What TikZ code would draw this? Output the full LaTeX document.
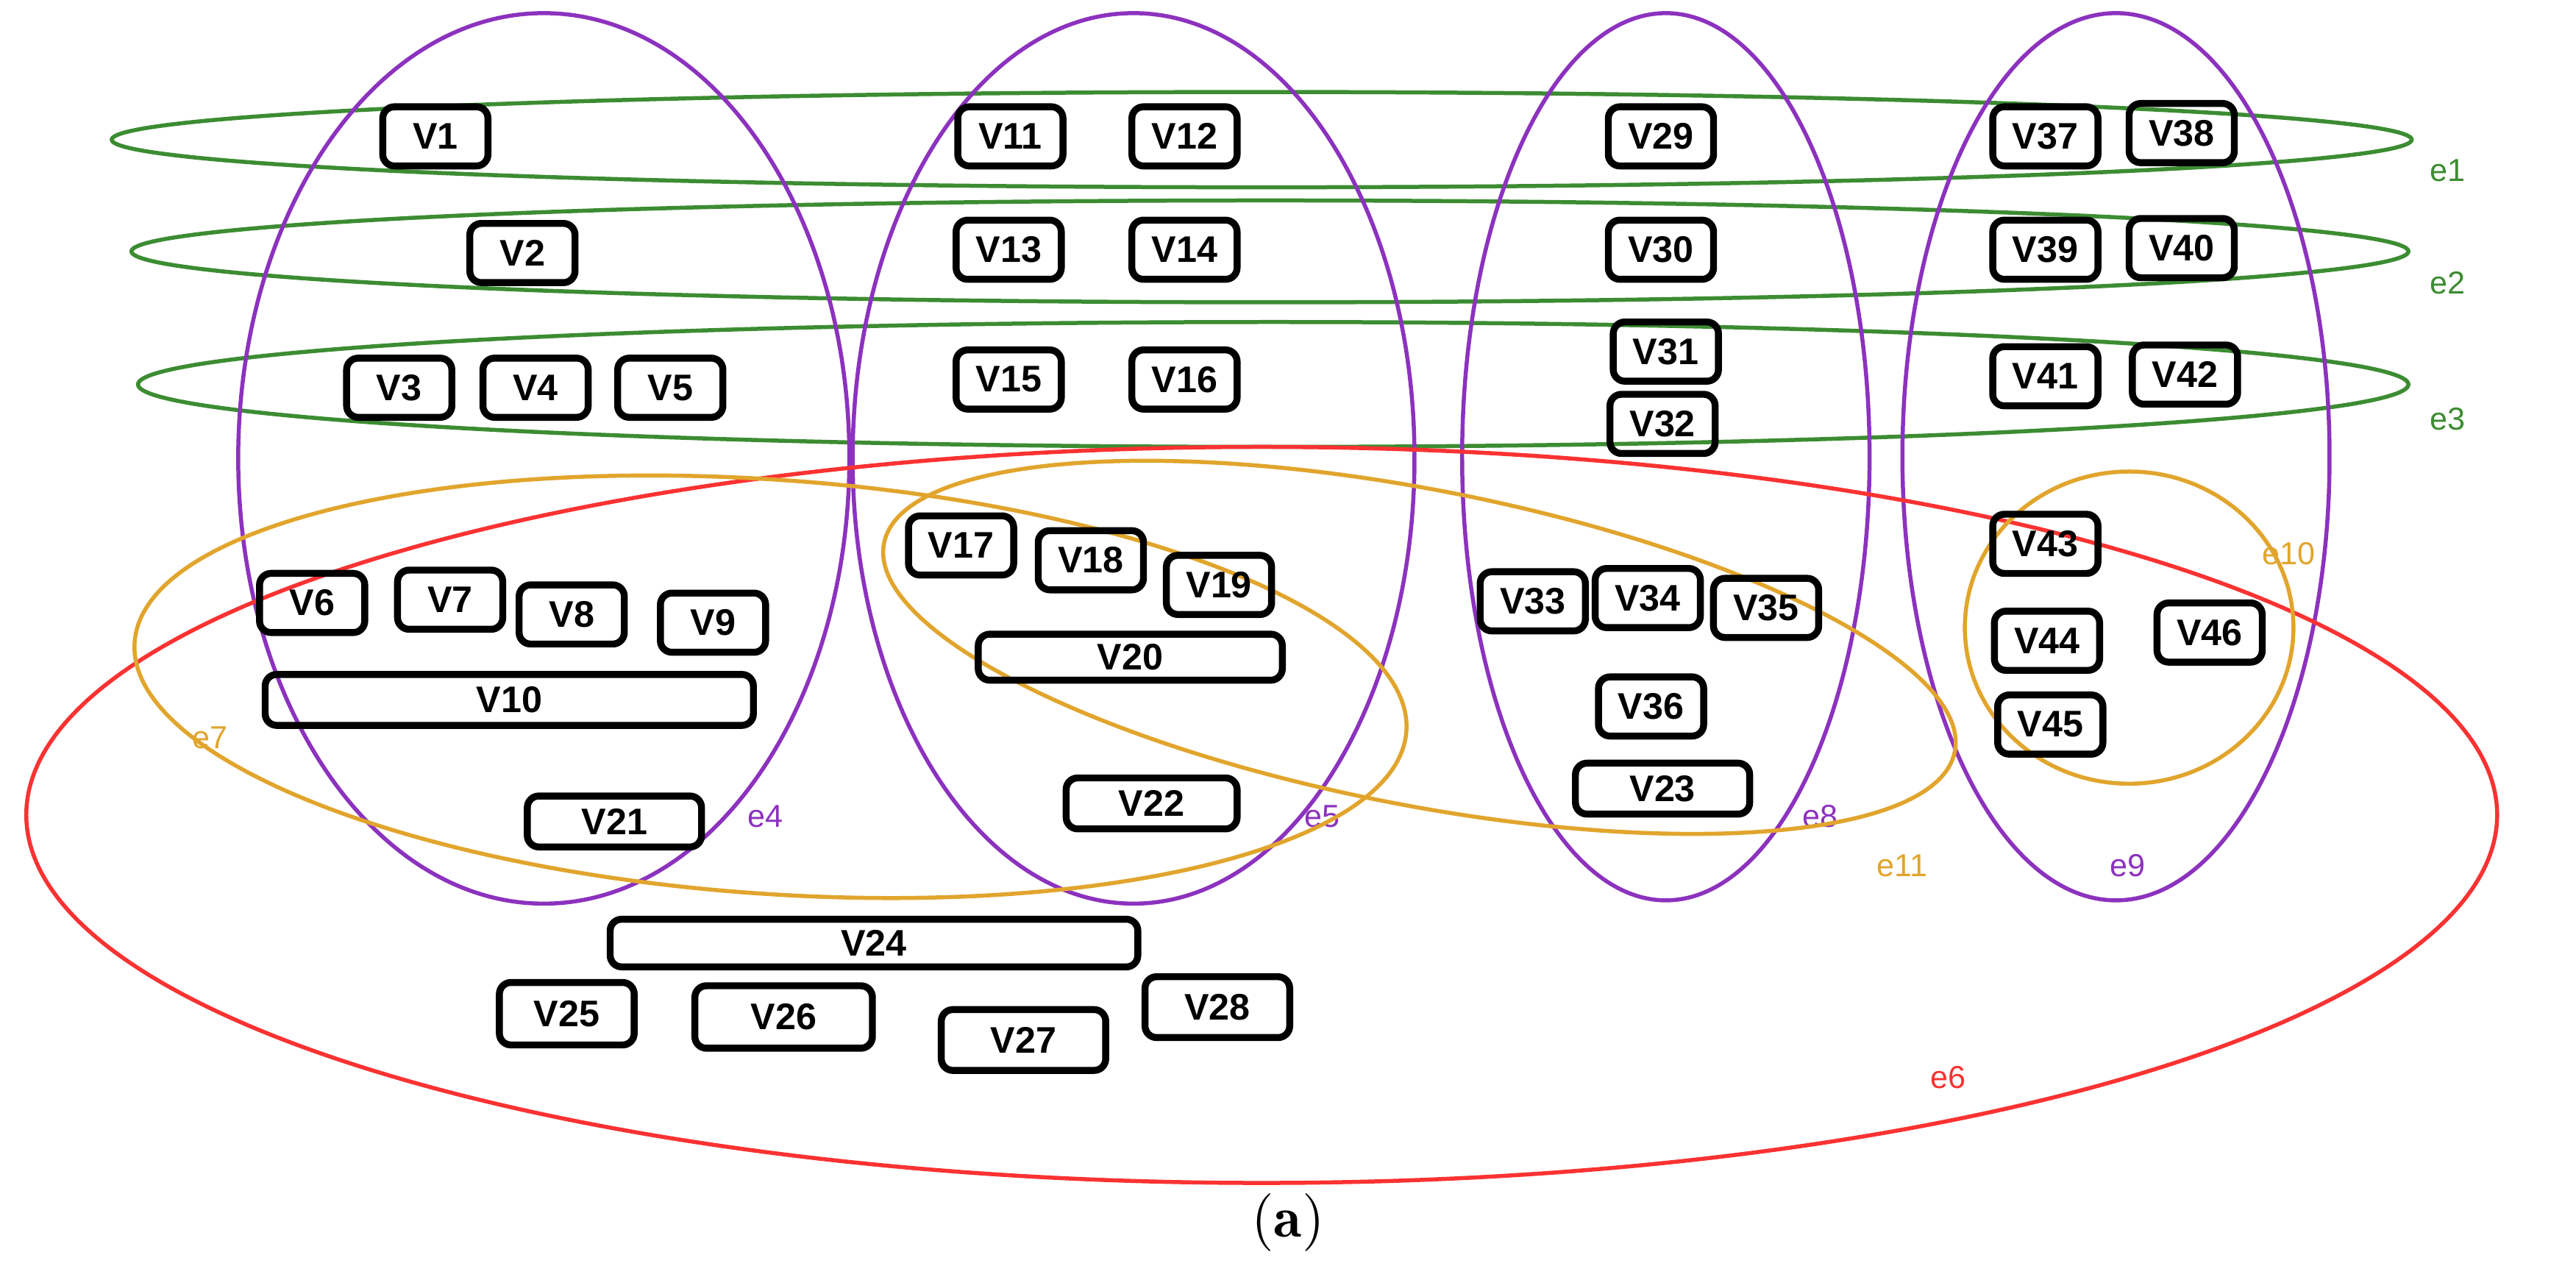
\documentclass[tikz,border=0pt]{standalone}
\usepackage{fontspec}
\setmainfont{Liberation Sans}
\usepackage{tikz}
\usetikzlibrary{positioning}
\definecolor{hgreen}{RGB}{60,140,50}
\definecolor{hpurple}{RGB}{140,50,190}
\definecolor{horange}{RGB}{225,165,45}
\definecolor{hred}{RGB}{250,50,50}

\begin{document}
\begin{tikzpicture}[
    x=0.01cm, y=-0.01cm,
    vbox/.style={rectangle, draw, line width=1.2pt, rounded corners=2pt, minimum width=0.64cm, minimum height=0.36cm, inner sep=0pt, font=\bfseries\fontsize{6.4}{7}\selectfont},
    edge/.style={line width=0.7pt},
    elabel/.style={font=\fontsize{5.5}{6}\selectfont}
]
\useasboundingbox (0,0) rectangle (1568,779);

% hyperedges
\draw[edge, hgreen] (768,85) ellipse [x radius=700, y radius=29] node[elabel] (e1) at (1490,104) {e1};
\draw[edge, hgreen] (773,153) ellipse [x radius=693, y radius=31] node[elabel] (e2) at (1490,172) {e2};
\draw[edge, hgreen] (775,234) ellipse [x radius=691, y radius=38] node[elabel] (e3) at (1490,255) {e3};
\draw[edge, hpurple] (331,279) ellipse [x radius=186, y radius=271] node[elabel] (e4) at (466,497) {e4};
\draw[edge, hpurple] (690,279) ellipse [x radius=171, y radius=271] node[elabel] (e5) at (805,497) {e5};
\draw[edge, hpurple] (1014,278) ellipse [x radius=124, y radius=270] node[elabel] (e8) at (1108,497) {e8};
\draw[edge, hpurple] (1288,278) ellipse [x radius=130, y radius=270] node[elabel] (e9) at (1295,527) {e9};
\draw[edge, hred] (768,496) ellipse [x radius=752, y radius=224] node[elabel] (e6) at (1186,656) {e6};
\draw[edge, horange, rotate around={-4:(469,418)}] (469,418) ellipse [x radius=388, y radius=126];
\node[elabel, horange] (e7) at (128,449) {e7};
\draw[edge, horange, rotate around={-11:(864,394)}] (864,394) ellipse [x radius=332, y radius=96];
\node[elabel, horange] (e11) at (1158,527) {e11};
\draw[edge, horange] (1296,382) ellipse [x radius=100, y radius=95];
\node[elabel, horange] (e10) at (1393,337) {e10};

% vertices
\foreach \name/\x/\y in {V1/265/83, V2/318/154, V3/243/236, V4/326/236, V5/408/236,
    V11/615/83, V12/721/83, V13/614/152, V14/721/152, V15/614/231, V16/721/231,
    V29/1011/83, V30/1011/152, V31/1014/214, V32/1012/258,
    V37/1245/83, V38/1328/81, V39/1245/152, V40/1328/151, V41/1245/229, V42/1330/228,
    V6/190/367, V7/274/365, V8/348/374, V9/434/379,
    V17/585/332, V18/664/341, V19/742/356,
    V33/933/366, V34/1003/364, V35/1075/370, V36/1005/430,
    V43/1245/331, V44/1246/390, V45/1248/441, V46/1345/385}
  \node[vbox] (\name) at (\x,\y) {\name};

\node[vbox, minimum width=2.97cm, minimum height=0.31cm] (V10) at (310,426) {V10};
\node[vbox, minimum width=1.06cm, minimum height=0.31cm] (V21) at (374,500) {V21};
\node[vbox, minimum width=1.85cm, minimum height=0.28cm] (V20) at (688,400) {V20};
\node[vbox, minimum width=1.04cm, minimum height=0.31cm] (V22) at (701,489) {V22};
\node[vbox, minimum width=1.06cm, minimum height=0.31cm] (V23) at (1012,480) {V23};
\node[vbox, minimum width=3.21cm, minimum height=0.29cm] (V24) at (532,574) {V24};
\node[vbox, minimum width=0.82cm, minimum height=0.38cm] (V25) at (345,617) {V25};
\node[vbox, minimum width=1.08cm, minimum height=0.38cm] (V26) at (477,619) {V26};
\node[vbox, minimum width=1.00cm, minimum height=0.37cm] (V27) at (623,633) {V27};
\node[vbox, minimum width=0.88cm, minimum height=0.37cm] (V28) at (741,613) {V28};

% caption
\node[font=\fontfamily{lmr}\selectfont\fontsize{10}{12}\selectfont] (cap) at (784,744) {(\textbf{a})};
\end{tikzpicture}
\end{document}
